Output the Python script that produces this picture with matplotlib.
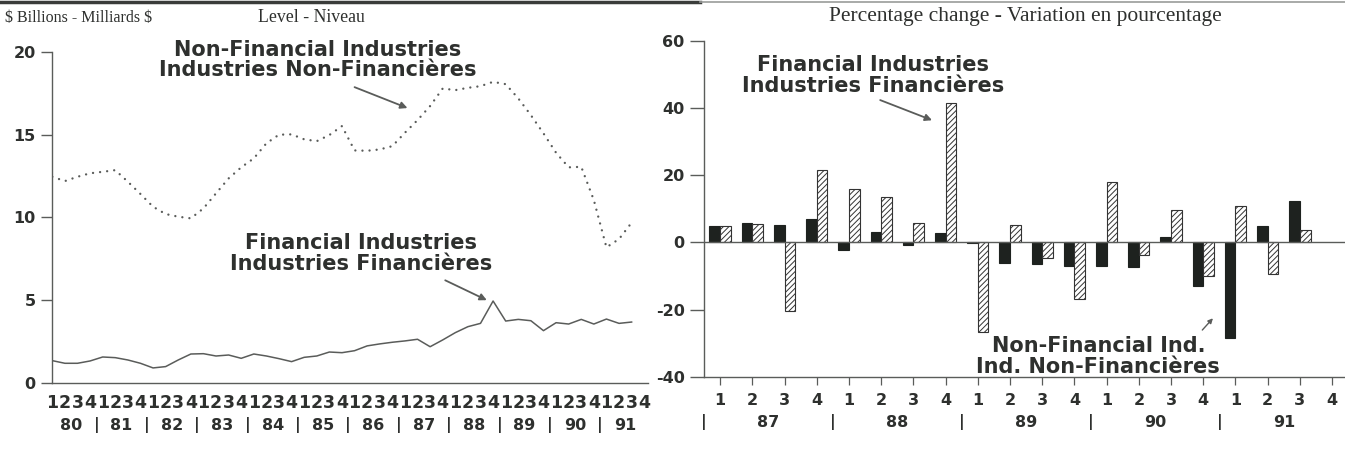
import numpy as np
import matplotlib
matplotlib.use("Agg")
import matplotlib.pyplot as plt
from matplotlib.lines import Line2D

# ---------------- data ----------------
# Level, quarterly 1980Q1 .. 1991Q3 ($ billions)
nonfin_level = [12.45, 12.19, 12.45, 12.66, 12.75, 12.85, 12.15, 11.41, 10.64, 10.20,
                10.04, 9.94, 10.54, 11.45, 12.35, 13.02, 13.56, 14.47, 14.99, 15.01,
                14.71, 14.60, 14.97, 15.51, 14.04, 14.02, 14.10, 14.30, 15.11, 15.87,
                16.72, 17.78, 17.68, 17.82, 17.92, 18.18, 18.04, 17.18, 16.17, 15.07,
                13.90, 13.02, 13.05, 11.04, 8.19, 8.69, 9.68]
fin_level = [1.35, 1.19, 1.19, 1.33, 1.57, 1.53, 1.39, 1.19, 0.91, 0.99,
             1.39, 1.75, 1.77, 1.63, 1.69, 1.49, 1.75, 1.63, 1.47, 1.29,
             1.55, 1.63, 1.87, 1.83, 1.95, 2.24, 2.36, 2.46, 2.54, 2.64,
             2.19, 2.60, 3.04, 3.40, 3.60, 4.95, 3.74, 3.84, 3.76, 3.16,
             3.64, 3.56, 3.84, 3.56, 3.86, 3.60, 3.68]
left_years = ["80", "81", "82", "83", "84", "85", "86", "87", "88", "89", "90", "91"]
quarter_digits = ["1", "2", "3", "4"]

# Percentage change, quarterly 1987Q1 .. 1991Q4
right_years = ["87", "88", "89", "90", "91"]
nonfin_pct = [5.0, 5.9, 5.2, 6.9, -2.3, 3.0, -0.8, 2.7, -0.3, -6.1,
              -6.5, -7.0, -7.0, -7.4, 1.7, -13.0, -28.5, 5.0, 12.4, np.nan]
fin_pct = [5.0, 5.5, -20.4, 21.6, 15.9, 13.6, 5.7, 41.6, -26.6, 5.2,
           -4.5, -17.0, 17.9, -3.8, 9.7, -9.9, 10.9, -9.4, 3.8, np.nan]

# ---------------- style ----------------
TXT = "#2e302e"
LINE = "#5a5c5a"
W, H = 1345, 468
fig = plt.figure(figsize=(W / 100, H / 100), dpi=100)
fig.patch.set_facecolor("white")
plt.rcParams["hatch.linewidth"] = 0.7
plt.rcParams["hatch.color"] = "#444444"

bold = dict(family="DejaVu Sans", weight="bold", color=TXT)
serif = dict(family="Liberation Serif", color=TXT)
ANN = 15
arrow_kw = dict(arrowstyle="-|>", color=LINE, lw=1.3, shrinkA=0, shrinkB=0,
                mutation_scale=10)


def fx(px):
    return px / W


def fy(py):
    return 1 - py / H


# ---------------- left panel ----------------
axL = fig.add_axes([fx(52.3), fy(383), fx(648 - 52.3), (383 - 51.7) / H])
n = len(fin_level)
xq = np.arange(n)
axL.plot(xq, nonfin_level, color=LINE, lw=1.7, linestyle=(0, (0.01, 3.0)),
         dash_capstyle="round")
axL.plot(xq, fin_level, color=LINE, lw=1.1)
axL.set_xlim(0, 47.3)
axL.set_ylim(0, 20)
for s in ("top", "right"):
    axL.spines[s].set_visible(False)
for s in ("left", "bottom"):
    axL.spines[s].set_color(LINE)
    axL.spines[s].set_linewidth(1.0)
axL.set_yticks([0, 5, 10, 15, 20])
axL.set_yticklabels(["0", "5", "10", "15", "20"], fontsize=11.5, **bold)
axL.tick_params(axis="y", length=8, width=1.0, color=LINE, pad=4)
axL.set_xticks(np.arange(n), minor=True)
axL.tick_params(axis="x", which="minor", length=4, width=0.9, color=LINE)
lab_pos = np.arange(len(left_years) * 4)
axL.set_xticks(lab_pos)
axL.set_xticklabels(quarter_digits * len(left_years), fontsize=12.5, **bold)
axL.tick_params(axis="x", which="major", length=0, pad=8)
for k, yr in enumerate(left_years):
    axL.text(4 * k + 1.5, -0.128, yr, transform=axL.get_xaxis_transform(),
             ha="center", va="center", fontsize=11.5, **bold)
    if k > 0:
        axL.text(4 * k - 0.5, -0.128, "|", transform=axL.get_xaxis_transform(),
                 ha="center", va="center", fontsize=11.5, **bold)

axL.text(21.1, 19.5, "Non-Financial Industries\nIndustries Non-Financières",
         ha="center", va="center", fontsize=ANN, linespacing=1.05, **bold)
axL.annotate("", xy=(28.2, 16.6), xytext=(24.0, 17.86), arrowprops=arrow_kw)
axL.text(24.5, 7.8, "Financial Industries\nIndustries Financières",
         ha="center", va="center", fontsize=ANN, linespacing=1.05, **bold)
axL.annotate("", xy=(34.5, 5.0), xytext=(31.2, 6.2), arrowprops=arrow_kw)

# ---------------- right panel ----------------
axR = fig.add_axes([fx(704), fy(376.7), 1 - fx(704), (376.7 - 41) / H])
m = len(fin_pct)
xr = np.arange(m)
bw = 0.33
axR.bar(xr - bw / 2, nonfin_pct, width=bw, color="#1e221f", edgecolor="#1e221f",
        linewidth=0.8)
axR.bar(xr + bw / 2, fin_pct, width=bw, color="white", edgecolor="#333333",
        linewidth=0.8, hatch="//////")
axR.axhline(0, color=LINE, lw=1.0)
axR.set_xlim(-0.5, 19.4)
axR.set_ylim(-40, 60)
for s in ("top", "right"):
    axR.spines[s].set_visible(False)
for s in ("left", "bottom"):
    axR.spines[s].set_color(LINE)
    axR.spines[s].set_linewidth(1.0)
axR.set_yticks([-40, -20, 0, 20, 40, 60])
axR.set_yticklabels(["-40", "-20", "0", "20", "40", "60"], fontsize=11.5, **bold)
axR.tick_params(axis="y", length=10, width=1.0, color=LINE, pad=4)
axR.set_xticks(xr)
axR.set_xticklabels(quarter_digits * len(right_years), fontsize=11.5, **bold)
axR.tick_params(axis="x", length=6, width=0.9, color=LINE, pad=6)
for k, yr in enumerate(right_years):
    axR.text(4 * k + 1.5, -0.135, yr, transform=axR.get_xaxis_transform(),
             ha="center", va="center", fontsize=11.5, **bold)
    axR.text(4 * k - 0.5, -0.135, "|", transform=axR.get_xaxis_transform(),
             ha="center", va="center", fontsize=11.5, **bold)

axR.text(4.75, 49.7, "Financial Industries\nIndustries Financières",
         ha="center", va="center", fontsize=ANN, linespacing=1.05, **bold)
axR.annotate("", xy=(6.58, 36.4), xytext=(4.97, 42.4), arrowprops=arrow_kw)
axR.text(11.74, -33.9, "Non-Financial Ind.\nInd. Non-Financières",
         ha="center", va="center", fontsize=ANN, linespacing=1.05, **bold)
axR.annotate("", xy=(15.3, -22.6), xytext=(14.97, -26.1),
             arrowprops=dict(arrowstyle="-|>", color=LINE, lw=1.0,
                             shrinkA=0, shrinkB=0, mutation_scale=7))

# ---------------- header ----------------
fig.text(fx(5), fy(18), r"\$ Billions - Milliards \$", fontsize=11.5, ha="left",
         va="center", **serif)
fig.text(fx(311), fy(17), "Level - Niveau", fontsize=12.8, ha="center",
         va="center", **serif)
fig.text(fx(1025), fy(17), "Percentage change - Variation en pourcentage",
         fontsize=15.5, ha="center", va="center", **serif)
fig.add_artist(Line2D([0, fx(700)], [fy(1.5), fy(1.5)], color="#3a3c3a", lw=2.5))
fig.add_artist(Line2D([fx(700), 1], [fy(1.5), fy(1.5)], color="#9a9c9a", lw=1.2))

fig.savefig("out.png", dpi=100, facecolor="white")
